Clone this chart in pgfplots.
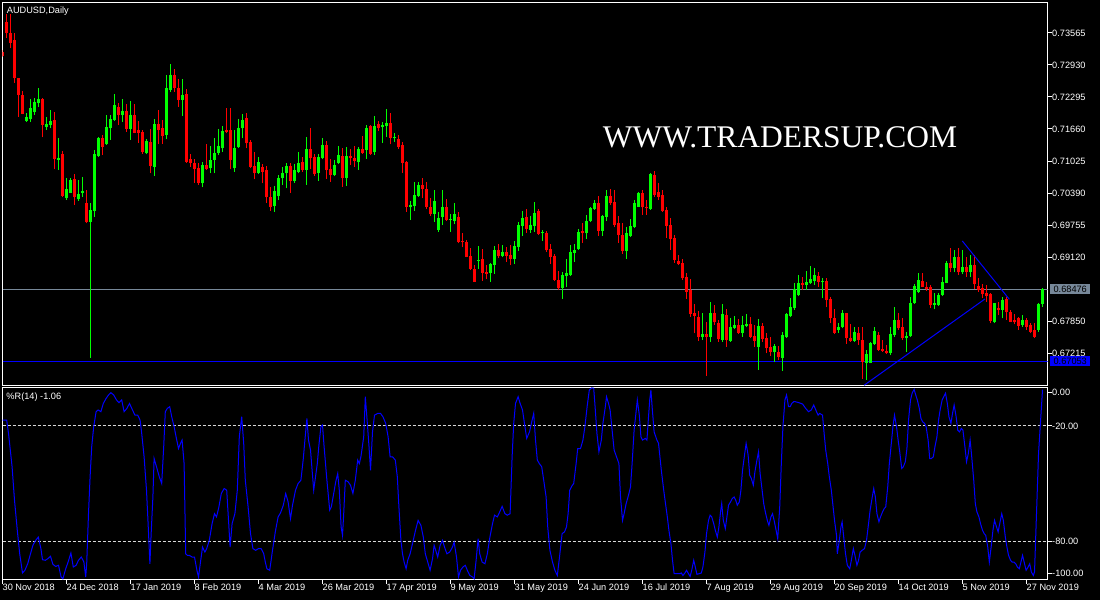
\documentclass[border=0pt]{standalone}
\usepackage{fontspec}
\setmainfont{Liberation Sans}
\newfontfamily\markfont{Liberation Serif}
\usepackage{pgfplots}
\usepackage{pgfplotstable}
\pgfplotsset{compat=1.18}

\definecolor{bullgreen}{RGB}{0,255,0}
\definecolor{bearred}{RGB}{255,0,0}
\definecolor{bidgray}{RGB}{119,136,153}
\definecolor{lineblue}{RGB}{0,0,255}
\definecolor{levelgray}{RGB}{215,215,215}
\newcommand\labelfont{\fontsize{9.2}{11}\selectfont}

% candles are drawn as error bars only: no markers
\pgfplotsset{candle/.style={only marks, mark=*, mark size=0pt,
  mark options={draw=none, fill=none}, forget plot}}

% AUDUSD daily bars: index, open, high, low, close
\pgfplotstableread{
i o h l c
6 0.71825 0.71972 0.71805 0.71904
7 0.71859 0.72255 0.71805 0.72071
8 0.72003 0.72269 0.71938 0.72202
9 0.72170 0.72474 0.72103 0.72255
11 0.71706 0.71904 0.71640 0.71759
12 0.71739 0.72037 0.71674 0.71825
14 0.71045 0.71487 0.70847 0.71091
16 0.70297 0.70682 0.70251 0.70470
17 0.70396 0.70682 0.70390 0.70648
19 0.70265 0.70648 0.70237 0.70370
20 0.70396 0.70702 0.70317 0.70436
22 0.69815 0.70198 0.67122 0.70053
23 0.70039 0.71243 0.69920 0.71164
24 0.71130 0.71507 0.71110 0.71487
26 0.71362 0.71938 0.71343 0.71706
27 0.71674 0.71938 0.71442 0.71859
28 0.71839 0.72355 0.71825 0.72136
30 0.71938 0.72249 0.71805 0.72017
32 0.71660 0.72216 0.71442 0.71938
36 0.71178 0.71456 0.71158 0.71428
38 0.70912 0.71859 0.70733 0.71759
41 0.71541 0.72732 0.71456 0.72468
42 0.72434 0.72950 0.72400 0.72732
45 0.72236 0.72646 0.71918 0.72335
50 0.70583 0.71011 0.70503 0.70946
52 0.70880 0.71329 0.70781 0.71045
53 0.71045 0.71476 0.70781 0.71178
54 0.71184 0.71654 0.71144 0.71323
55 0.71277 0.71720 0.71210 0.71620
58 0.70880 0.71640 0.70813 0.71277
59 0.71309 0.71859 0.71290 0.71674
60 0.71674 0.71952 0.71476 0.71839
64 0.70787 0.71110 0.70767 0.71005
68 0.70138 0.70529 0.70019 0.70430
69 0.70337 0.70747 0.70251 0.70682
70 0.70682 0.70912 0.70549 0.70793
71 0.70781 0.70991 0.70483 0.70926
73 0.70628 0.70966 0.70594 0.70847
74 0.70813 0.71210 0.70781 0.70991
76 0.70847 0.71507 0.70549 0.71263
79 0.70793 0.71164 0.70634 0.71110
80 0.71091 0.71487 0.71059 0.71343
83 0.70747 0.71045 0.70727 0.70946
84 0.70985 0.71329 0.70966 0.71144
86 0.70694 0.71309 0.70535 0.71124
89 0.70999 0.71309 0.70847 0.71263
91 0.71243 0.71739 0.71065 0.71686
93 0.71198 0.71918 0.71144 0.71720
95 0.71706 0.71805 0.71388 0.71739
96 0.71726 0.72057 0.71507 0.71785
98 0.71476 0.71575 0.71408 0.71507
102 0.70118 0.70231 0.69854 0.70152
103 0.70132 0.70614 0.70033 0.70350
104 0.70331 0.70614 0.70311 0.70549
108 0.69973 0.70450 0.69815 0.70231
109 0.69656 0.70013 0.69616 0.69888
110 0.69920 0.70450 0.69755 0.70118
112 0.69854 0.69973 0.69622 0.69874
113 0.69834 0.70198 0.69769 0.69973
119 0.69047 0.69338 0.68882 0.69061
122 0.68797 0.69007 0.68630 0.68981
123 0.68961 0.69338 0.68783 0.69259
125 0.69140 0.69358 0.69114 0.69213
128 0.69080 0.69438 0.68981 0.69338
129 0.69325 0.69809 0.69245 0.69755
130 0.69735 0.70033 0.69537 0.69888
132 0.69656 0.69934 0.69602 0.69755
133 0.69735 0.70206 0.69622 0.69987
135 0.69590 0.69656 0.69444 0.69610
140 0.68511 0.68829 0.68287 0.68763
141 0.68743 0.69080 0.68531 0.68797
142 0.68763 0.69358 0.68743 0.69225
143 0.69206 0.69378 0.69027 0.69259
144 0.69273 0.69670 0.69259 0.69622
146 0.69590 0.69954 0.69477 0.69834
147 0.69834 0.70118 0.69809 0.70087
148 0.70073 0.70251 0.70053 0.70186
150 0.69642 0.69954 0.69543 0.69934
151 0.69920 0.70450 0.69834 0.70331
156 0.69239 0.69710 0.69080 0.69590
157 0.69543 0.69868 0.69523 0.69735
158 0.69721 0.70251 0.69702 0.70186
159 0.70118 0.70416 0.70106 0.70396
162 0.70073 0.70781 0.70053 0.70761
175 0.67539 0.68003 0.67473 0.67592
177 0.67539 0.68221 0.67439 0.68015
180 0.67473 0.68188 0.67439 0.67989
182 0.67459 0.67916 0.67439 0.67737
183 0.67705 0.67949 0.67686 0.67771
185 0.67618 0.67949 0.67539 0.67771
186 0.67751 0.67989 0.67725 0.67791
189 0.67340 0.67884 0.66878 0.67751
193 0.67229 0.67394 0.67043 0.67360
195 0.67122 0.67626 0.66864 0.67572
196 0.67539 0.68015 0.67519 0.67983
197 0.67949 0.68301 0.67924 0.68134
198 0.68102 0.68598 0.68069 0.68479
199 0.68366 0.68763 0.68346 0.68610
201 0.68565 0.68842 0.68465 0.68630
202 0.68598 0.68942 0.68584 0.68678
203 0.68650 0.68896 0.68565 0.68763
205 0.68630 0.68698 0.68301 0.68650
209 0.67672 0.67817 0.67618 0.67737
210 0.67725 0.68069 0.67705 0.68003
213 0.67459 0.67737 0.67439 0.67626
216 0.67023 0.67275 0.66679 0.67195
217 0.67023 0.67439 0.67011 0.67408
218 0.67394 0.67737 0.67374 0.67652
222 0.67209 0.67737 0.67175 0.67586
223 0.67572 0.68122 0.67539 0.67870
226 0.67507 0.67638 0.67241 0.67559
227 0.67559 0.68321 0.67539 0.68201
228 0.68201 0.68584 0.68188 0.68545
229 0.68432 0.68809 0.68412 0.68664
233 0.68168 0.68400 0.68082 0.68201
234 0.68168 0.68412 0.68148 0.68366
235 0.68366 0.68717 0.68346 0.68630
236 0.68610 0.69041 0.68598 0.69007
238 0.68896 0.69259 0.68817 0.69126
240 0.68817 0.69259 0.68777 0.68928
242 0.68817 0.69160 0.68729 0.68961
248 0.67824 0.68213 0.67805 0.68201
250 0.68069 0.68332 0.67904 0.68267
255 0.67771 0.67969 0.67737 0.67870
259 0.67672 0.68201 0.67638 0.68182
260 0.68182 0.68499 0.68134 0.68476
}\upbars

\pgfplotstableread{
i o h l c
0 0.73194 0.73228 0.73089 0.73109
1 0.73789 0.73942 0.73460 0.73571
2 0.73571 0.73942 0.73261 0.73361
3 0.73426 0.73559 0.72579 0.72666
4 0.72666 0.72678 0.71904 0.72335
5 0.72335 0.72420 0.71950 0.71958
10 0.72255 0.72281 0.71495 0.71739
13 0.71839 0.72003 0.70860 0.71065
15 0.71164 0.71224 0.70305 0.70331
18 0.70668 0.70767 0.70152 0.70305
21 0.70192 0.70450 0.69789 0.69809
25 0.71487 0.71541 0.71144 0.71309
29 0.72091 0.72182 0.71739 0.71938
31 0.72017 0.72156 0.71607 0.71660
33 0.71938 0.72156 0.71575 0.71587
34 0.71640 0.71825 0.71388 0.71575
35 0.71595 0.71640 0.71164 0.71210
37 0.71408 0.71654 0.70781 0.70926
39 0.71759 0.72037 0.71362 0.71640
40 0.71674 0.71839 0.71362 0.71521
43 0.72732 0.72851 0.72400 0.72468
44 0.72468 0.72646 0.72103 0.72236
46 0.72349 0.72448 0.70991 0.71011
47 0.71065 0.71164 0.70912 0.70979
48 0.70979 0.71059 0.70594 0.70860
49 0.70880 0.70979 0.70549 0.70583
51 0.70946 0.71362 0.70847 0.70860
56 0.71640 0.72071 0.71575 0.71595
57 0.71640 0.72083 0.70860 0.71045
61 0.71872 0.71972 0.71277 0.71376
62 0.71408 0.71442 0.70880 0.70912
63 0.70926 0.71210 0.70662 0.70781
65 0.70912 0.70966 0.70583 0.70813
66 0.70847 0.70932 0.70198 0.70305
67 0.70317 0.70515 0.70039 0.70118
72 0.70926 0.70991 0.70396 0.70628
75 0.70999 0.71110 0.70813 0.70847
77 0.71263 0.71686 0.70866 0.71091
78 0.71110 0.71164 0.70727 0.70767
81 0.71343 0.71422 0.70668 0.70847
82 0.70866 0.71065 0.70614 0.70747
85 0.71124 0.71289 0.70515 0.70694
87 0.71124 0.71263 0.70946 0.71079
88 0.71085 0.71329 0.70912 0.71025
90 0.71263 0.71527 0.71164 0.71178
92 0.71720 0.71740 0.71144 0.71164
94 0.71759 0.71819 0.71620 0.71686
97 0.71785 0.71972 0.71356 0.71487
99 0.71462 0.71541 0.71263 0.71309
100 0.71343 0.71396 0.70793 0.70991
101 0.71011 0.71031 0.70019 0.70118
105 0.70549 0.70694 0.70285 0.70470
106 0.70470 0.70602 0.70067 0.70118
107 0.70118 0.70285 0.69940 0.69973
111 0.70106 0.70271 0.69834 0.69854
114 0.69920 0.70007 0.69392 0.69424
115 0.69444 0.69590 0.69313 0.69412
116 0.69412 0.69458 0.69120 0.69126
117 0.69140 0.69293 0.68862 0.68882
118 0.68882 0.68961 0.68624 0.68630
120 0.69080 0.69273 0.68650 0.68809
121 0.68829 0.68961 0.68678 0.68783
124 0.69259 0.69378 0.69094 0.69140
126 0.69213 0.69313 0.69027 0.69140
127 0.69160 0.69358 0.68961 0.69080
131 0.69908 0.70073 0.69602 0.69670
134 0.70039 0.70073 0.69557 0.69577
136 0.69602 0.69636 0.69225 0.69259
137 0.69279 0.69378 0.68981 0.69126
138 0.69146 0.69180 0.68650 0.68664
139 0.68664 0.68842 0.68465 0.68499
145 0.69636 0.69789 0.69404 0.69590
149 0.70186 0.70331 0.69543 0.69642
152 0.70331 0.70470 0.70152 0.70198
153 0.70206 0.70450 0.69710 0.69755
154 0.69789 0.69934 0.69404 0.69557
155 0.69557 0.69789 0.69180 0.69239
160 0.70396 0.70450 0.69954 0.70106
161 0.70118 0.70251 0.69954 0.70087
163 0.70747 0.70833 0.70311 0.70350
164 0.70416 0.70583 0.70251 0.70317
165 0.70350 0.70450 0.70013 0.70039
166 0.70053 0.70112 0.69497 0.69735
167 0.69755 0.69894 0.69259 0.69471
168 0.69503 0.69557 0.69007 0.69061
169 0.69047 0.69160 0.68961 0.68981
170 0.69007 0.69080 0.68664 0.68698
171 0.68729 0.68797 0.68287 0.68432
172 0.68465 0.68678 0.67936 0.67989
173 0.68015 0.68188 0.67606 0.67949
174 0.67924 0.68055 0.67453 0.67539
176 0.67592 0.67836 0.66765 0.67539
178 0.68003 0.68168 0.67771 0.67824
179 0.67805 0.67870 0.67439 0.67487
181 0.67969 0.68088 0.67340 0.67473
184 0.67771 0.67884 0.67592 0.67618
187 0.67791 0.67936 0.67507 0.67539
188 0.67559 0.67771 0.67340 0.67459
190 0.67751 0.67805 0.67439 0.67493
191 0.67519 0.67606 0.67209 0.67309
192 0.67328 0.67539 0.67162 0.67241
194 0.67241 0.67360 0.67076 0.67142
200 0.68610 0.68717 0.68465 0.68565
204 0.68743 0.68829 0.68531 0.68630
206 0.68650 0.68698 0.68122 0.68267
207 0.68281 0.68321 0.67805 0.67904
208 0.67904 0.68082 0.67592 0.67618
211 0.68003 0.68015 0.67394 0.67507
212 0.67507 0.67791 0.67439 0.67459
214 0.67606 0.67737 0.67374 0.67473
215 0.67473 0.67737 0.66699 0.67043
219 0.67572 0.67638 0.67261 0.67275
220 0.67289 0.67473 0.67241 0.67255
221 0.67255 0.67374 0.67195 0.67209
224 0.67870 0.68015 0.67672 0.67705
225 0.67737 0.67904 0.67473 0.67507
230 0.68650 0.68797 0.68519 0.68531
231 0.68531 0.68630 0.68452 0.68479
232 0.68519 0.68565 0.68102 0.68168
237 0.69007 0.69293 0.68817 0.68896
239 0.69126 0.69293 0.68763 0.68817
241 0.68928 0.69126 0.68729 0.68817
243 0.68961 0.69160 0.68485 0.68578
244 0.68551 0.68698 0.68432 0.68465
245 0.68499 0.68578 0.68301 0.68380
246 0.68400 0.68565 0.68233 0.68352
247 0.68380 0.68400 0.67805 0.67850
249 0.68114 0.68233 0.67969 0.68069
251 0.68281 0.68332 0.67870 0.68023
252 0.68035 0.68069 0.67824 0.67836
253 0.67870 0.67983 0.67785 0.67824
254 0.67904 0.67936 0.67672 0.67757
256 0.67870 0.67904 0.67672 0.67737
257 0.67771 0.67805 0.67606 0.67638
258 0.67672 0.67805 0.67507 0.67539
}\downbars

% Williams %R(14)
\pgfplotstableread{
i v
0.0 -17.0
1.05 -17.0
1.5 -23.9
2.4 -41.3
3.0 -58.7
3.7 -74.4
4.3 -86.6
5.0 -96.6
5.6 -95.2
6.3 -91.8
7.0 -86.6
7.6 -82.2
8.3 -79.6
8.95 -77.9
9.6 -83.9
10.0 -89.7
10.7 -90.0
11.3 -89.2
12.0 -87.9
12.6 -92.1
13.3 -93.2
14.0 -92.6
14.65 -98.7
15.1 -99.6
15.8 -94.4
16.4 -90.9
17.1 -86.2
17.7 -93.5
18.4 -92.6
19.0 -90.0
19.7 -88.3
20.35 -90.9
20.8 -98.7
21.05 -91.8
21.5 -65.7
21.9 -46.5
22.3 -30.9
22.8 -20.4
23.4 -12.6
23.9 -11.7
24.6 -12.6
25.2 -8.3
25.9 -5.7
26.5 -3.9
27.1 -2.7
27.8 -3.9
28.5 -6.5
29.1 -7.9
29.8 -6.5
30.4 -12.6
31.1 -10.9
31.75 -8.3
32.5 -11.7
33.1 -14.4
33.8 -14.4
34.4 -17.0
34.8 -23.9
35.4 -36.1
36.0 -53.5
36.4 -70.9
36.85 -91.8
37.2 -74.4
37.6 -57.0
37.9 -37.0
38.5 -41.3
39.2 -46.5
39.8 -50.0
40.3 -30.9
40.7 -12.6
41.2 -10.9
41.8 -10.0
42.3 -15.2
42.9 -20.4
43.4 -25.7
44.0 -31.8
44.5 -29.1
44.9 -27.4
45.4 -39.6
45.8 -86.6
46.2 -87.4
46.7 -87.4
47.4 -88.3
48.0 -88.3
48.6 -95.2
49.0 -98.7
49.5 -90.9
50.0 -83.1
50.6 -85.7
51.05 -83.9
51.7 -79.6
52.4 -70.9
53.0 -65.7
53.5 -67.4
54.1 -62.2
54.7 -55.2
55.4 -52.6
56.05 -53.5
56.5 -69.1
56.9 -83.1
57.4 -70.9
58.1 -65.7
58.7 -53.5
59.2 -25.7
59.8 -15.2
60.3 -29.1
60.7 -48.3
61.4 -62.2
62.0 -76.1
62.6 -83.9
63.3 -84.8
64.0 -83.9
64.65 -83.9
65.3 -86.6
65.7 -90.9
66.1 -94.4
66.8 -95.2
67.5 -84.8
68.2 -75.2
68.9 -67.4
69.5 -65.3
70.2 -61.3
70.8 -55.2
71.4 -59.6
72.0 -68.3
72.5 -61.3
73.25 -53.5
73.9 -50.0
74.6 -48.3
75.2 -37.0
75.6 -27.4
76.1 -16.1
76.5 -27.4
77.0 -32.6
77.4 -43.1
77.8 -53.5
78.25 -46.5
78.7 -39.6
79.1 -30.0
79.6 -20.4
80.0 -19.6
80.4 -30.9
81.1 -48.3
81.8 -63.9
82.2 -62.2
82.8 -55.2
83.3 -49.1
83.8 -44.8
84.2 -53.5
84.65 -72.6
85.0 -77.0
85.3 -65.7
85.7 -48.3
86.4 -49.1
87.0 -50.9
87.6 -55.2
88.2 -48.3
88.8 -37.8
89.2 -39.6
89.6 -36.1
90.3 -25.7
90.7 -4.8
91.15 -17.0
91.6 -30.0
92.0 -43.1
92.5 -23.1
93.0 -14.4
93.8 -13.5
94.5 -13.5
95.1 -15.2
95.8 -18.7
96.4 -25.7
96.9 -36.1
97.5 -36.1
98.2 -37.8
98.7 -46.5
99.1 -62.2
99.6 -79.6
100.0 -86.6
100.4 -90.9
100.9 -94.4
101.3 -90.0
101.9 -86.6
102.5 -81.3
103.25 -74.4
103.9 -69.2
104.6 -71.8
105.2 -77.9
105.7 -86.6
106.3 -90.9
106.9 -95.2
107.5 -89.2
107.9 -82.2
108.3 -84.8
108.8 -88.3
109.4 -82.2
110.0 -79.6
110.5 -83.1
111.1 -86.6
111.8 -85.7
112.5 -83.1
112.9 -80.5
113.5 -88.3
114.0 -98.7
114.5 -95.2
115.1 -93.5
115.7 -92.6
116.2 -95.2
116.85 -97.9
117.5 -98.7
117.9 -99.6
118.4 -90.0
118.9 -78.7
119.3 -86.6
119.9 -90.9
120.6 -91.8
121.2 -86.6
121.85 -77.9
122.5 -70.9
123.0 -66.5
123.7 -67.4
124.3 -64.8
124.9 -61.9
125.6 -65.7
126.2 -66.5
126.9 -65.7
127.4 -36.1
127.8 -18.7
128.25 -8.3
128.9 -4.8
129.4 -8.3
130.0 -11.7
130.6 -20.4
131.05 -26.5
131.75 -23.1
132.4 -17.0
132.8 -13.5
133.25 -27.4
133.7 -37.8
134.2 -39.6
134.8 -41.3
135.3 -48.3
135.9 -57.0
136.3 -72.6
136.85 -84.8
137.5 -90.9
138.1 -95.2
138.7 -97.9
139.25 -88.3
139.9 -76.1
140.5 -75.2
141.0 -72.6
141.4 -65.7
141.8 -53.5
142.3 -51.4
142.8 -50.0
143.4 -39.6
143.8 -31.8
144.5 -31.8
145.1 -27.4
145.6 -20.4
146.2 -9.1
146.7 -1.3
147.3 -0.2
147.8 -0.4
148.2 -11.7
148.6 -23.9
149.1 -33.5
149.7 -27.4
150.1 -18.7
150.7 -10.0
151.0 -4.8
151.5 -8.3
151.9 -11.7
152.4 -22.2
152.9 -32.6
153.5 -36.1
154.1 -39.6
154.5 -57.0
155.0 -69.2
155.4 -65.7
155.9 -60.5
156.5 -56.1
157.0 -51.8
157.4 -39.6
157.9 -22.2
158.3 -14.4
158.7 -6.5
159.2 -14.4
159.6 -25.7
160.0 -27.4
160.7 -26.5
161.1 -27.4
161.5 -15.2
161.8 -6.5
162.1 -1.3
162.4 -10.0
162.9 -23.1
163.6 -27.4
164.0 -29.1
164.7 -43.1
165.3 -53.5
165.75 -60.5
166.2 -67.4
166.6 -74.4
167.1 -81.3
167.5 -90.0
167.9 -97.0
168.4 -97.0
168.8 -97.0
169.3 -97.0
169.7 -96.6
170.1 -97.9
170.6 -96.6
171.0 -95.2
171.5 -97.0
171.9 -98.4
172.3 -95.2
172.8 -90.0
173.2 -93.5
173.6 -97.3
174.1 -97.0
174.7 -96.6
175.1 -93.5
175.6 -85.7
176.0 -76.1
176.5 -69.2
176.9 -66.5
177.3 -67.4
177.8 -70.9
178.2 -74.4
178.7 -77.9
179.1 -72.6
179.5 -64.8
179.8 -60.5
180.2 -69.2
180.7 -73.5
181.1 -67.4
181.5 -61.3
182.0 -59.6
182.4 -57.9
182.9 -57.0
183.3 -58.7
183.7 -61.3
184.2 -59.6
184.6 -53.5
185.0 -43.1
185.5 -35.2
185.9 -29.1
186.4 -35.2
186.8 -45.7
187.2 -47.4
187.7 -50.9
188.1 -43.9
188.6 -37.8
189.0 -33.5
189.4 -44.8
189.9 -53.5
190.3 -60.5
190.7 -64.8
191.2 -69.2
191.6 -71.8
192.1 -67.4
192.5 -65.7
192.9 -69.2
193.4 -74.4
193.8 -78.7
194.3 -62.2
194.7 -39.6
195.1 -20.4
195.6 -6.5
196.0 -3.9
196.5 -10.0
196.9 -10.0
197.3 -8.3
197.8 -7.4
198.2 -7.4
199.1 -7.9
200.0 -8.6
200.8 -10.9
201.5 -12.6
202.2 -11.7
202.8 -9.1
203.5 -12.6
203.9 -14.4
204.3 -13.5
205.0 -14.4
205.4 -23.9
205.8 -32.6
206.3 -39.6
206.7 -46.5
207.2 -53.5
207.6 -61.3
208.0 -69.2
208.5 -77.0
208.7 -86.6
209.2 -79.6
209.6 -72.6
209.9 -70.0
210.3 -77.9
210.75 -86.6
211.2 -92.6
211.8 -94.4
212.2 -90.0
212.7 -83.9
213.1 -87.4
213.6 -92.6
214.0 -90.0
214.4 -85.7
214.9 -84.8
215.5 -83.9
216.0 -79.6
216.5 -70.9
216.9 -63.9
217.3 -58.7
217.8 -52.6
218.2 -57.0
218.6 -65.7
219.1 -70.0
219.5 -67.4
220.0 -64.8
220.4 -63.1
220.8 -62.2
221.3 -51.8
221.7 -39.6
222.2 -29.1
222.6 -20.4
223.0 -14.4
223.5 -20.4
223.9 -27.4
224.3 -33.5
224.8 -42.2
225.2 -41.3
225.7 -38.7
226.1 -31.8
226.5 -17.0
227.0 -6.5
227.4 -3.0
227.9 -1.0
228.3 -3.9
228.7 -6.5
229.2 -10.9
229.6 -16.1
230.0 -17.8
230.5 -18.7
230.9 -20.4
231.4 -27.4
231.8 -37.0
232.2 -37.0
232.7 -36.1
233.1 -30.9
233.6 -25.7
234.0 -17.0
234.4 -11.7
234.9 -6.5
235.3 -4.8
235.75 -3.0
236.2 -8.3
236.6 -15.2
237.1 -18.7
237.5 -13.5
237.9 -9.1
238.4 -15.2
238.8 -22.2
239.25 -23.1
239.7 -21.3
240.1 -22.2
240.6 -30.9
241.0 -38.7
241.45 -34.4
241.9 -27.4
242.3 -36.1
242.8 -48.3
243.2 -60.5
243.6 -64.8
244.1 -67.4
244.5 -70.9
245.0 -74.4
245.4 -76.1
245.8 -77.0
246.3 -83.1
246.7 -90.9
247.15 -83.1
247.6 -74.4
248.0 -69.2
248.5 -72.6
248.9 -75.2
249.3 -70.9
249.8 -65.7
250.2 -69.2
250.7 -77.9
251.1 -83.1
251.5 -87.4
252.0 -90.0
252.4 -90.9
252.85 -90.9
253.3 -91.8
253.7 -93.5
254.2 -94.4
254.6 -90.9
255.0 -87.4
255.5 -91.8
255.9 -95.2
256.4 -93.5
256.8 -91.8
257.2 -96.1
257.7 -97.9
258.0 -96.0
259.0 -34.4
260.0 -1.06
}\wpr

\begin{document}
\begin{tikzpicture}
\path[use as bounding box] (0pt,0pt) rectangle (1100pt,600pt);
\fill[black] (0pt,0pt) rectangle (1100pt,600pt);

% ---------------- price window ----------------
\begin{axis}[
  at={(2.5pt,214.5pt)}, anchor=south west,
  scale only axis, width=1045pt, height=383pt,
  xmin=0, xmax=261.25, ymin=0.665703, ymax=0.741702,
  axis line style={white, line width=1pt},
  xtick=\empty,
  ytick={0.67215,0.67850,0.69120,0.69755,0.70390,0.71025,0.71660,0.72295,0.72930,0.73565},
  scaled y ticks=false,
  ytick pos=right, yticklabel pos=right,
  tick align=outside, major tick length=4.5pt,
  tick style={white, line width=1pt},
  yticklabel style={text=white, anchor=west, inner sep=0pt, font=\labelfont},
  /pgf/number format/fixed, /pgf/number format/fixed zerofill,
  /pgf/number format/precision=5, /pgf/number format/assume math mode=true,
  clip mode=individual,
]
% bid line and horizontal level
\addplot[bidgray, line width=1pt, forget plot] coordinates {(0,0.68476) (261.25,0.68476)};
\addplot[lineblue, line width=1pt, forget plot] coordinates {(0,0.67053) (261.25,0.67053)};

% wicks
\addplot[candle, error bars/.cd, y dir=plus, y explicit, error mark=none,
  error bar style={draw=bullgreen, line width=1pt}]
  table[x=i, y=l, y error plus expr=\thisrow{h}-\thisrow{l}] {\upbars};
\addplot[candle, error bars/.cd, y dir=plus, y explicit, error mark=none,
  error bar style={draw=bearred, line width=1pt}]
  table[x=i, y=l, y error plus expr=\thisrow{h}-\thisrow{l}] {\downbars};
% bodies
\addplot[candle, error bars/.cd, y dir=plus, y explicit, error mark=none,
  error bar style={draw=bullgreen, line width=3pt}]
  table[x=i, y=o, y error plus expr=\thisrow{c}-\thisrow{o}] {\upbars};
\addplot[candle, error bars/.cd, y dir=plus, y explicit, error mark=none,
  error bar style={draw=bearred, line width=3pt}]
  table[x=i, y=c, y error plus expr=\thisrow{o}-\thisrow{c}] {\downbars};

% trend lines
\addplot[lineblue, line width=1pt, forget plot] coordinates {(215.4,0.66575) (245.6,0.68287)};
\addplot[lineblue, line width=1pt, forget plot] coordinates {(239.95,0.69438) (251.7,0.68281)};

\node[anchor=base west, inner sep=0pt, text=white, font=\labelfont]
  at (rel axis cs:0.004,0.9718) {AUDUSD,Daily};
\node[anchor=base west, inner sep=0pt, text=white, font=\markfont\fontsize{31.5}{34}\selectfont]
  at (rel axis cs:0.5744,0.6219) {WWW.TRADERSUP.COM};
\node[fill=bidgray, text=black, inner sep=0pt, minimum width=40pt, minimum height=10pt,
  anchor=west, xshift=2.5pt, font=\labelfont] at (axis cs:261.25,0.68476) {0.68476};
\node[fill=lineblue, text=black, inner sep=0pt, minimum width=40pt, minimum height=10pt,
  anchor=west, xshift=2.5pt, font=\labelfont] at (axis cs:261.25,0.67053) {0.67053};
\end{axis}

% ---------------- Williams %R window ----------------
\begin{axis}[
  at={(2.5pt,20.5pt)}, anchor=south west,
  scale only axis, width=1045pt, height=192pt,
  xmin=0, xmax=261.25, ymin=-100, ymax=0,
  axis line style={white, line width=1pt},
  xtick={0,16,...,256},
  xticklabels={30 Nov 2018,24 Dec 2018,17 Jan 2019,8 Feb 2019,4 Mar 2019,26 Mar 2019,17 Apr 2019,9 May 2019,31 May 2019,24 Jun 2019,16 Jul 2019,7 Aug 2019,29 Aug 2019,20 Sep 2019,14 Oct 2019,5 Nov 2019,27 Nov 2019},
  xtick pos=left,
  ytick={-96.8,-80,-20,-2.7},
  yticklabels={-100.00,-80.00,-20.00,0.00},
  ytick pos=right, yticklabel pos=right,
  tick align=outside, major tick length=4.5pt,
  tick style={white, line width=1pt},
  xticklabel style={text=white, anchor=north west, inner sep=0pt, font=\labelfont},
  yticklabel style={text=white, anchor=west, inner sep=0pt, font=\labelfont},
  clip mode=individual,
]
\addplot[levelgray, line width=1pt, dash pattern=on 3pt off 2pt, forget plot] coordinates {(0,-20) (261.25,-20)};
\addplot[levelgray, line width=1pt, dash pattern=on 3pt off 2pt, forget plot] coordinates {(0,-80) (261.25,-80)};
\addplot[lineblue, line width=1pt, forget plot] table[x=i, y=v] {\wpr};
\node[anchor=base west, inner sep=0pt, text=white, font=\labelfont]
  at (rel axis cs:0.0036,0.9365) {\%R(14) -1.06};
\end{axis}
\end{tikzpicture}
\end{document}
